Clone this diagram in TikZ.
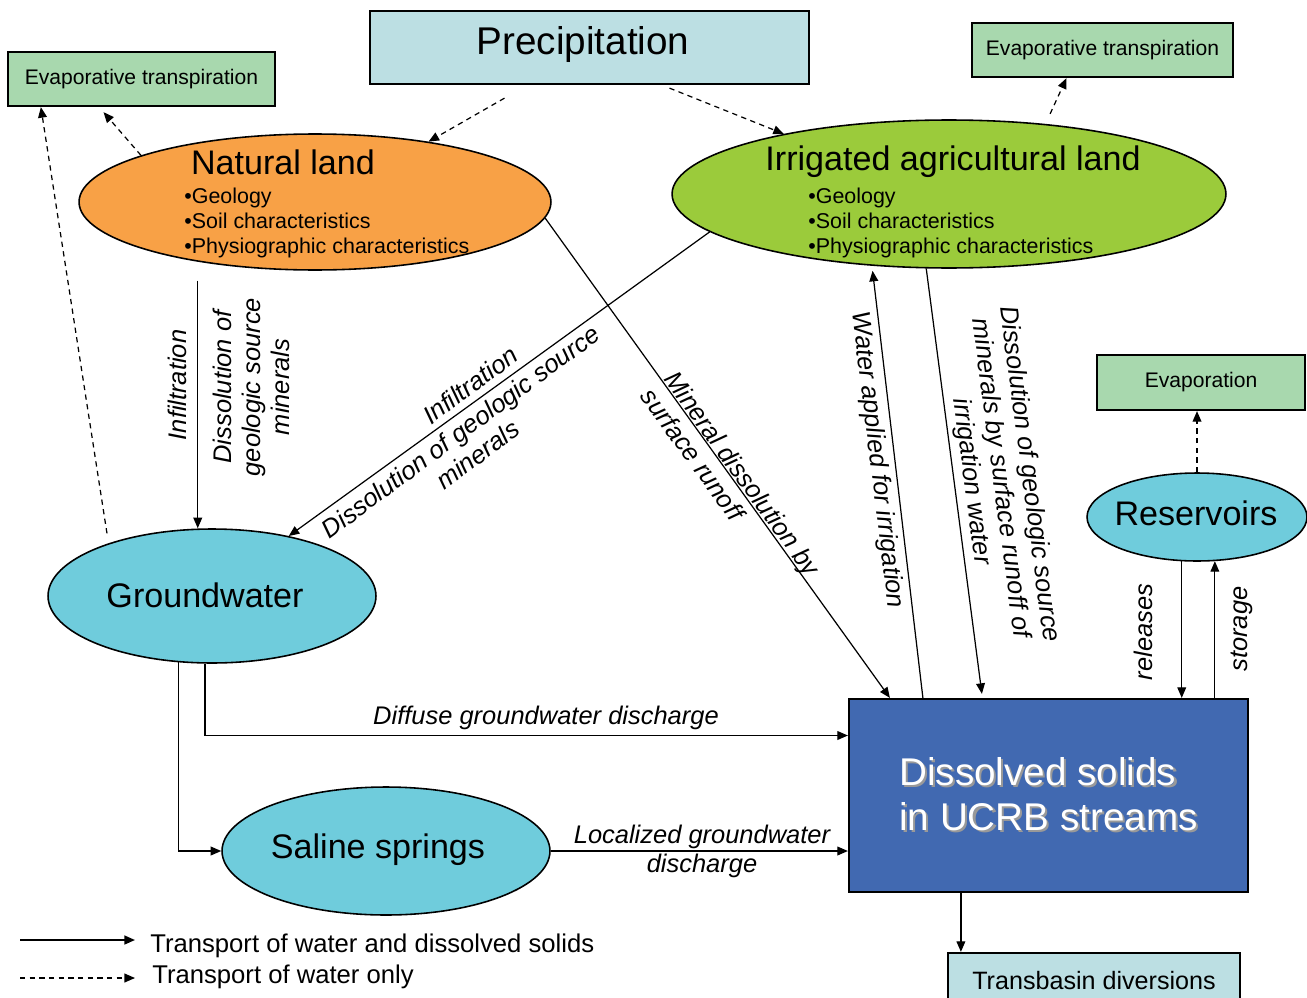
\documentclass[tikz,border=0pt]{standalone}
\usepackage{fontspec}
\setmainfont{Liberation Sans}
\usetikzlibrary{shapes.geometric,arrows.meta,calc,positioning}

\definecolor{precipblue}{HTML}{BCDFE3}
\definecolor{evapgreen}{HTML}{A8D8AE}
\definecolor{landorange}{HTML}{F8A146}
\definecolor{irrgreen}{HTML}{9BCB3B}
\definecolor{waterblue}{HTML}{6FCCDC}
\definecolor{solidsblue}{HTML}{4169B1}

\newcommand{\fsz}[2]{\fontsize{#1pt}{#2pt}\selectfont}
\newcommand{\shadowed}[1]{\makebox[0pt][l]{\raisebox{-1.2pt}{\hspace{1.2pt}\textcolor{black!40}{#1}}}#1}

\begin{document}
\begin{tikzpicture}[x=0.02cm, y=-0.02cm,
    box/.style={draw, line width=1.3pt, inner sep=0pt, align=center},
    land/.style={ellipse, draw, line width=0.9pt, inner sep=0pt},
    water/.style={land, fill=waterblue},
    big/.style={font=\fsz{19.4}{22}},
    flow/.style={-{Triangle[length=6pt,width=5pt]}, line width=0.7pt},
    wflow/.style={flow, dash pattern=on 3pt off 2.5pt},
    lbl/.style={font=\fsz{14.5}{16.5}\itshape, align=center, inner sep=0pt}]
    \useasboundingbox (0,0) rectangle (1307,997);

    % Boxes
    \node[box, fill=precipblue, minimum width=8.78cm, minimum height=1.46cm] (precip) at (589.5,47.5) {};
    \node[font=\fsz{22}{26}] (precipT) at (583,45) {Precipitation};
    \node[box, fill=evapgreen, minimum width=5.34cm, minimum height=1.08cm, font=\fsz{12}{14}] (evapL) at (141.5,79) {Evaporative transpiration};
    \node[box, fill=evapgreen, minimum width=5.22cm, minimum height=1.08cm, font=\fsz{12}{14}] (evapR) at (1102.5,50) {Evaporative transpiration};
    \node[box, fill=evapgreen, minimum width=4.16cm, minimum height=1.1cm, font=\fsz{12}{14}] (evap) at (1201,382.5) {Evaporation};
    \node[box, fill=solidsblue, minimum width=7.98cm, minimum height=3.86cm, align=left, text=white, font=\fsz{22}{25.6}] (sol) at (1048.5,795.5) {\shadowed{Dissolved solids}\\\shadowed{in UCRB streams}};
    \node[box, fill=precipblue, minimum width=5.84cm, minimum height=1.12cm, font=\fsz{14.3}{16}] (trans) at (1094,981) {Transbasin diversions};

    % Land
    \node[land, fill=landorange, minimum width=9.44cm, minimum height=2.72cm] (nat) at (315,202) {};
    \node[big] (natT) at (283,162) {Natural land};
    \node[anchor=west, align=left, inner sep=0pt, font=\fsz{12.2}{14.2}] (natB) at (184,223) {•Geology\\•Soil characteristics\\•Physiographic characteristics};
    \node[land, fill=irrgreen, minimum width=11.08cm, minimum height=2.96cm] (irr) at (949,194) {};
    \node[big] (irrT) at (953,162) {Irrigated agricultural land};
    \node[anchor=west, align=left, inner sep=0pt, font=\fsz{12.2}{14.2}] (irrB) at (808,223) {•Geology\\•Soil characteristics\\•Physiographic characteristics};

    % Water
    \node[water, minimum width=6.56cm, minimum height=2.68cm] (gw) at (212,596) {};
    \node[big] (gwT) at (205,595) {Groundwater};
    \node[water, minimum width=6.56cm, minimum height=2.56cm] (spr) at (386,851) {};
    \node[big] (sprT) at (378,850) {Saline springs};
    \node[water, minimum width=4.4cm, minimum height=1.76cm] (res) at (1197,517) {};
    \node[big] (resT) at (1196,513) {Reservoirs};

    % Water only
    \draw[wflow] ($(precip.south)+(-85,13)$) -- (nat.28);
    \draw[wflow] ($(precip.south)+(80,3)$) -- (irr.160);
    \draw[wflow] (nat.165) -- ($(evapL.south)+(-38,5)$);
    \draw[wflow, shorten <=0.2cm] (gw.153) -- ($(evapL.south west)+(34,0)$);
    \draw[wflow, shorten <=0.22cm] (irr.36.5) -- ($(evapR.south)+(-36,0)$);
    \draw[wflow] (res.north) -- (res.north |- evap.south);

    % Water and dissolved solids
    \coordinate (solA) at ($(sol.north west)+(42,0)$);
    \coordinate (solB) at ($(sol.north west)+(75,0)$);
    \coordinate (solC) at ($(sol.north west)+(134,-4)$);
    \coordinate (solD) at ($(sol.west)+(0,-60)$);
    \coordinate (solE) at ($(sol.south west)+(113,0)$);
    \draw[flow, shorten <=0.38cm] (nat.207.6) -- (nat.207.6 |- gw.north);
    \draw[flow] (irr.189) -- (gw.38.5);
    \draw[flow] (nat.-4) -- (solA);
    \draw[flow, shorten >=0.1cm] (solB) -- (irr.223);
    \draw[flow] (irr.253.4) -- (solC);
    \draw[flow] (res.251) -- (res.251 |- sol.north);
    \draw[flow] (res.292.6 |- sol.north) -- (res.292.6);
    \draw[flow] (gw.264) |- (solD);
    \draw[flow] (gw.243) |- (spr.west);
    \draw[flow] (spr.east) -- (spr.east -| sol.west);
    \draw[flow] (solE) -- (solE |- trans.north);

    % Labels
    \node[lbl, rotate=90] (infA) at (177,385) {Infiltration};
    \node[lbl, rotate=90] (disA) at (251,387) {Dissolution of\\geologic source\\minerals};
    \node[lbl, rotate=36.5] (infB) at (470,385) {Infiltration};
    \node[lbl, rotate=36.5] (disB) at (469,443) {Dissolution of geologic source\\minerals};
    \node[lbl, rotate=-54, align=left] (minD) at (731,482) {Mineral dissolution by\\surface runoff};
    \node[lbl, rotate=-83] (wApp) at (877,460) {Water applied for irrigation};
    \node[lbl, rotate=-82.5] (disC) at (1000,478) {Dissolution of geologic source\\minerals by surface runoff of\\irrigation water};
    \node[lbl, rotate=90] (rel) at (1143,632) {releases};
    \node[lbl, rotate=90] (sto) at (1242,629) {storage};
    \node[lbl] (diff) at (546,718) {Diffuse groundwater discharge};
    \node[lbl] (loc) at (702,851) {Localized groundwater\\discharge};

    % Legend
    \node[anchor=west, inner sep=0pt, font=\fsz{14.6}{16}] (legA) at (150,946) {Transport of water and dissolved solids};
    \node[anchor=west, inner sep=0pt, font=\fsz{14.6}{16}] (legB) at (152,977) {Transport of water only};
    \coordinate (legAs) at (20,940);
    \coordinate (legBs) at (20,978);
    \draw[flow, line width=1pt, shorten >=0.3cm] (legAs) -- (legAs -| legA.west);
    \draw[wflow, line width=0.8pt, shorten >=0.34cm] (legBs) -- (legBs -| legB.west);
\end{tikzpicture}
\end{document}
